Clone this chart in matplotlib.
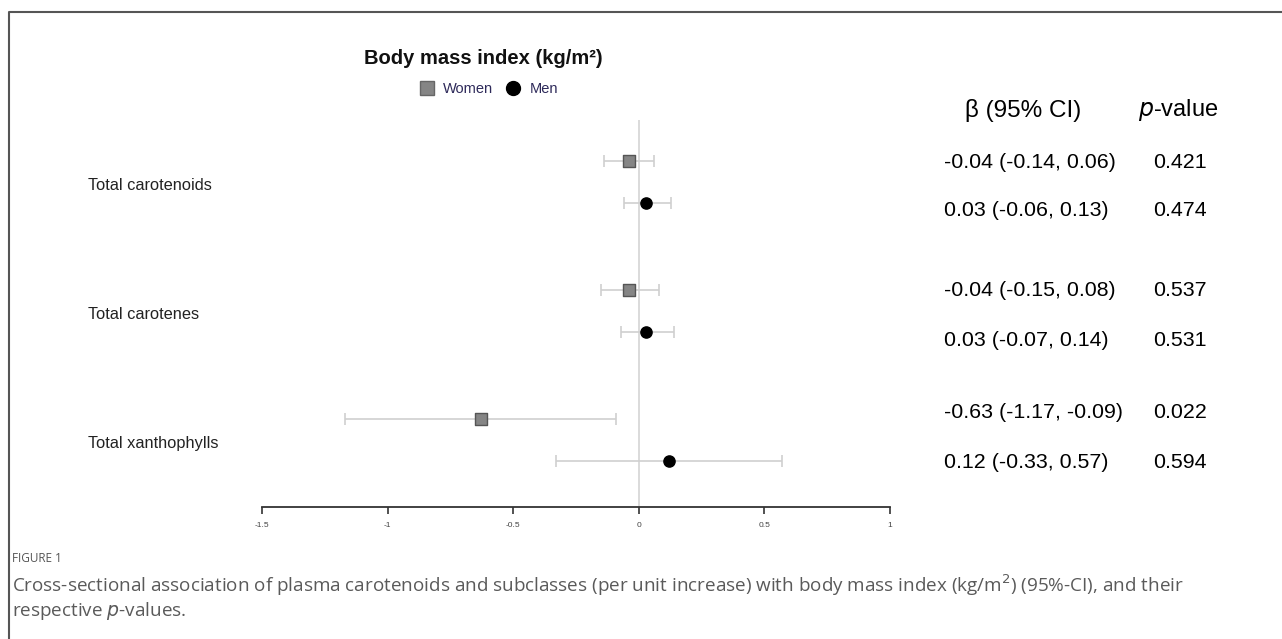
import matplotlib.pyplot as plt
from matplotlib.lines import Line2D
import matplotlib.transforms as mtransforms

categories = ["Total carotenoids", "Total carotenes", "Total xanthophylls"]
women_beta = [-0.04, -0.04, -0.63]
women_lo = [-0.14, -0.15, -1.17]
women_hi = [0.06, 0.08, -0.09]
women_p = ["0.421", "0.537", "0.022"]
men_beta = [0.03, 0.03, 0.12]
men_lo = [-0.06, -0.07, -0.33]
men_hi = [0.13, 0.14, 0.57]
men_p = ["0.474", "0.531", "0.594"]
xticks = [-1.5, -1, -0.5, 0, 0.5, 1]

W, H = 1282, 639
fig = plt.figure(figsize=(W / 100, H / 100), dpi=100)
plt.rcParams['font.family'] = ['Liberation Sans', 'DejaVu Sans']

# axes placed in pixel coordinates of the reference
ax_l, ax_r, ax_t, ax_b = 262, 890, 120, 507
ax = fig.add_axes([ax_l / W, 1 - ax_b / H, (ax_r - ax_l) / W, (ax_b - ax_t) / H])
ax.set_xlim(-1.5, 1)
ax.set_ylim(2.52, -0.48)
for s in ["top", "left", "right"]:
    ax.spines[s].set_visible(False)
ax.spines["bottom"].set_color("#333333")
ax.spines["bottom"].set_linewidth(1.3)
ax.set_yticks([])
ax.set_xticks(xticks)
ax.set_xticklabels([("%g" % t) for t in xticks], fontsize=6, color="#444444")
ax.tick_params(axis="x", direction="out", length=5, width=1.2, color="#333333", pad=6)

ax.axvline(0, color="#d4d4d4", lw=1.2, zorder=1)

off = 0.163
yw = [i - off for i in range(3)]
ym = [i + off for i in range(3)]
ax.errorbar(women_beta, yw,
            xerr=[[b - l for b, l in zip(women_beta, women_lo)], [h - b for b, h in zip(women_beta, women_hi)]],
            fmt="none", ecolor="#cfcfcf", elinewidth=1.2, capsize=4, capthick=1.2, zorder=2)
ax.errorbar(men_beta, ym,
            xerr=[[b - l for b, l in zip(men_beta, men_lo)], [h - b for b, h in zip(men_beta, men_hi)]],
            fmt="none", ecolor="#cfcfcf", elinewidth=1.2, capsize=4, capthick=1.2, zorder=2)
ax.scatter(women_beta, yw, marker="s", s=85, color="#858585", edgecolors="#555555", linewidths=1, zorder=3)
ax.scatter(men_beta, ym, marker="o", s=65, color="black", zorder=3)

# category labels
trans = mtransforms.blended_transform_factory(fig.transFigure, ax.transData)
for i, c in enumerate(categories):
    fig.text(88 / W, i + 0.03, c, transform=trans, fontsize=11.8, color="#222222", va="center")

# estimates and p-values (text rows, pixel layout)
women_txt_y = [162, 291, 413]
men_txt_y = [211, 340, 463]
for i in range(3):
    txt = "%.2f (%.2f, %.2f)" % (women_beta[i], women_lo[i], women_hi[i])
    fig.text(944 / W, 1 - women_txt_y[i] / H, txt, fontsize=15.4, va="center")
    fig.text(1153 / W, 1 - women_txt_y[i] / H, women_p[i], fontsize=15.4, va="center")
    txt = "%.2f (%.2f, %.2f)" % (men_beta[i], men_lo[i], men_hi[i])
    fig.text(944 / W, 1 - men_txt_y[i] / H, txt, fontsize=15.4, va="center")
    fig.text(1153 / W, 1 - men_txt_y[i] / H, men_p[i], fontsize=15.4, va="center")

fig.text(1023 / W, 1 - 110 / H, "β (95% CI)", fontsize=17.5, ha="center", va="center")
fig.text(1178 / W, 1 - 110 / H, r"$\it{p}$-value", fontsize=17, ha="center", va="center")

# title and legend
fig.text(483 / W, 1 - 58 / H, "Body mass index (kg/m²)", fontsize=14.5, weight="bold",
         ha="center", va="center", color="#111111")
handles = [Line2D([], [], marker="s", ls="none", markersize=10, color="#858585", markeredgecolor="#666666", label="Women"),
           Line2D([], [], marker="o", ls="none", markersize=10, color="black", label="Men")]
fig.legend(handles=handles, loc="center", bbox_to_anchor=(488 / W, 1 - 89 / H), ncol=2, frameon=False,
           fontsize=10.5, handletextpad=0.5, columnspacing=0.8, handlelength=1.2,
           labelcolor="#2e2a5a")

# frame
fig.add_artist(Line2D([9 / W, 9 / W, 1], [0, 1 - 12 / H, 1 - 12 / H], transform=fig.transFigure,
                      color="#555555", lw=1.5))

# caption
fig.text(12 / W, 1 - 559 / H, "FIGURE 1", fontsize=8.5, color="#555555", family="Open Sans", va="center")
fig.text(12 / W, 1 - 585 / H,
         "Cross-sectional association of plasma carotenoids and subclasses (per unit increase) with body mass index (kg/m$^2$) (95%-CI), and their",
         fontsize=13.6, color="#5a5a5a", family="Open Sans", va="center")
fig.text(12 / W, 1 - 611 / H, "respective $\\it{p}$-values.", fontsize=13.6, color="#5a5a5a",
         family="Open Sans", va="center")

fig.savefig("out.png", dpi=100)
